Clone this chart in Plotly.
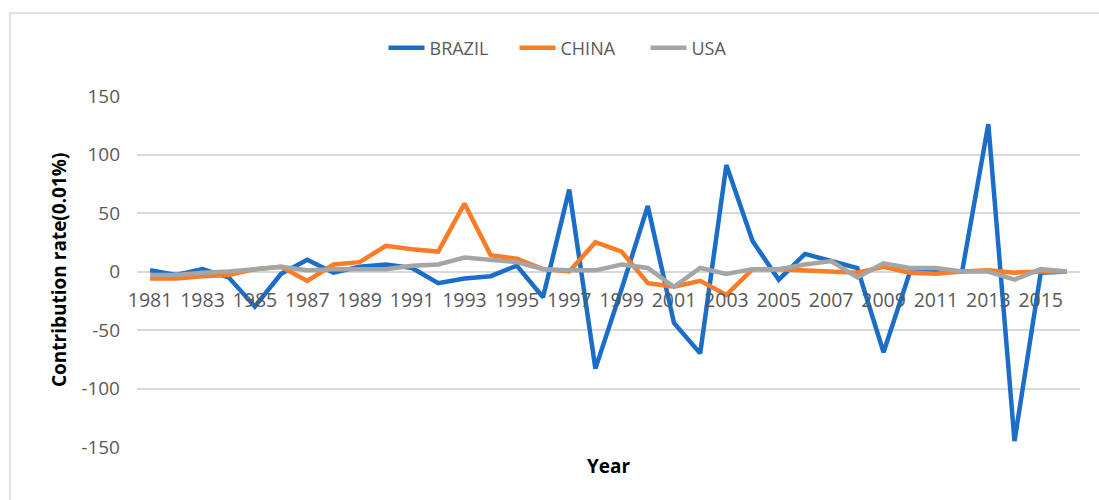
import plotly.graph_objects as go

# Yearly contribution rate (units of 0.01%) by country
years = list(range(1981, 2017))

brazil = [1, -3, 2, -5, -30, -2, 10, -1, 4, 6, 3, -10, -6, -4, 5, -22,
          70, -83, -15, 56, -44, -70, 91, 26, -7, 15, 9, 3, -69, -1, 0, 0,
          126, -145, -1, 0]

china = [-6, -6, -4, -3, 2, 4, -8, 6, 8, 22, 19, 17, 58, 14, 11, 2,
         0, 25, 17, -10, -13, -8, -20, 2, 2, 1, 0, -1, 4, -1, -2, 0,
         1, -1, 0, 0]

usa = [-3, -3, -1, 0, 2, 4, 1, 2, 2, 2, 5, 6, 12, 10, 8, 2,
       1, 1, 6, 3, -13, 3, -2, 2, 2, 6, 9, -5, 7, 3, 3, 0,
       0, -7, 2, 0]

series = [("BRAZIL", brazil, "#1a6ec8"),
          ("CHINA", china, "#f97d27"),
          ("USA", usa, "#a5a5a5")]

x_tick_years = list(range(1981, 2016, 2))
y_ticks = [-150, -100, -50, 0, 50, 100, 150]
y_tick_text = ["-150", "-100", "-50", "0", "50", "100", "150"]

W, H = 1099, 500
L, R, T, B = 137, 19, 96, 53
pw, ph = W - L - R, H - T - B


def px_to_paper_x(px):
    return (px - L) / pw


def px_to_paper_y(py):
    return (H - B - py) / ph


fig = go.Figure()
for name, vals, color in series:
    fig.add_trace(go.Scatter(
        x=years, y=vals, name=name, mode="lines",
        line=dict(color=color, width=4.5),
    ))

font_family = "Open Sans"
tick_color = "#595959"
grid_color = "#d9d9d9"

fig.update_layout(
    width=W, height=H,
    margin=dict(l=L, r=R, t=T, b=B),
    paper_bgcolor="white",
    plot_bgcolor="white",
    font=dict(family=font_family, size=18, color=tick_color),
    showlegend=True,
    legend=dict(
        orientation="h",
        x=px_to_paper_x(580), xanchor="center",
        y=px_to_paper_y(48), yanchor="middle",
        font=dict(size=18, color=tick_color),
        itemwidth=36,
        entrywidth=80,
        entrywidthmode="pixels",
        traceorder="normal",
    ),
    xaxis=dict(
        range=[1980.5, 2016.5],
        tickvals=x_tick_years,
        ticktext=[str(y) for y in x_tick_years],
        showgrid=False,
        zeroline=False,
        showline=False,
        anchor="free",
        position=0.5,
        ticks="",
        ticklabelstandoff=15,
        tickfont=dict(size=19.5, color=tick_color),
    ),
    yaxis=dict(
        range=[-150, 150],
        tickvals=y_ticks,
        ticktext=y_tick_text,
        showgrid=True,
        gridcolor=grid_color,
        gridwidth=1.5,
        zeroline=True,
        zerolinecolor=grid_color,
        zerolinewidth=1.5,
        showline=False,
        ticks="",
        ticklabelstandoff=16,
        tickfont=dict(size=19, color=tick_color),
    ),
    shapes=[dict(
        type="rect", xref="paper", yref="paper",
        x0=px_to_paper_x(10), x1=px_to_paper_x(1110),
        y0=px_to_paper_y(520), y1=px_to_paper_y(13),
        line=dict(color="#d9d9d9", width=1.5),
        fillcolor="rgba(0,0,0,0)",
        layer="below",
    )],
    annotations=[
        dict(text="<b>Year</b>", xref="paper", yref="paper",
             x=px_to_paper_x(609), y=px_to_paper_y(466),
             xanchor="center", yanchor="middle", showarrow=False,
             font=dict(size=19, color="#000000", family=font_family)),
        dict(text="<b>Contribution rate(0.01%)</b>", xref="paper", yref="paper",
             x=px_to_paper_x(59), y=px_to_paper_y(270),
             xanchor="center", yanchor="middle", showarrow=False,
             textangle=-90,
             font=dict(size=19, color="#000000", family=font_family)),
    ],
)

fig.write_html("out.html")
